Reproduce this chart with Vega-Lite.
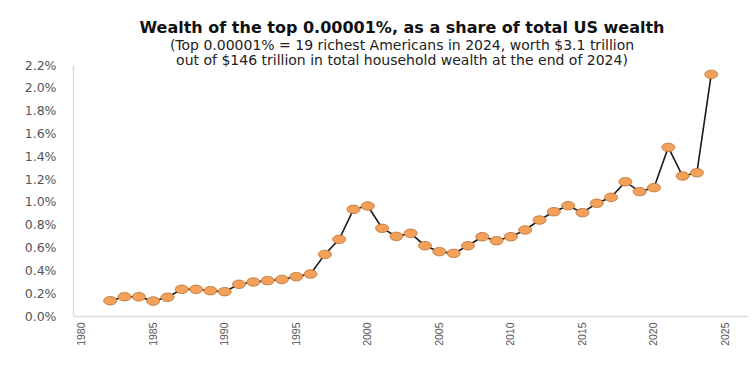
{
  "$schema": "https://vega.github.io/schema/vega-lite/v6.json",
  "width": 674,
  "height": 251,
  "autosize": "none",
  "padding": {"left": 73, "top": 65, "right": 9, "bottom": 49},
  "background": "white",
  "title": {
    "text": "Wealth of the top 0.00001%, as a share of total US wealth",
    "subtitle": ["(Top 0.00001% = 19 richest Americans in 2024, worth $3.1 trillion", "out of $146 trillion in total household wealth at the end of 2024)"],
    "anchor": "middle",
    "font": "DejaVu Sans",
    "fontSize": 16,
    "fontWeight": "bold",
    "color": "#111",
    "subtitleFont": "DejaVu Sans",
    "subtitleFontSize": 14,
    "subtitleColor": "#222",
    "subtitleLineHeight": 15,
    "subtitlePadding": 3,
    "offset": -9,
    "dx": -8
  },
  "config": {
    "view": {"stroke": null},
    "axis": {"grid": false, "ticks": false, "domainColor": "#dddddd", "domainWidth": 1.5, "labelFont": "DejaVu Sans", "labelColor": "#555"}
  },
  "data": {
    "values": [
      {"year": 1982, "share": 0.134},
      {"year": 1983, "share": 0.169},
      {"year": 1984, "share": 0.169},
      {"year": 1985, "share": 0.131},
      {"year": 1986, "share": 0.164},
      {"year": 1987, "share": 0.234},
      {"year": 1988, "share": 0.234},
      {"year": 1989, "share": 0.222},
      {"year": 1990, "share": 0.213},
      {"year": 1991, "share": 0.278},
      {"year": 1992, "share": 0.298},
      {"year": 1993, "share": 0.31},
      {"year": 1994, "share": 0.32},
      {"year": 1995, "share": 0.345},
      {"year": 1996, "share": 0.368},
      {"year": 1997, "share": 0.54},
      {"year": 1998, "share": 0.672},
      {"year": 1999, "share": 0.935},
      {"year": 2000, "share": 0.964},
      {"year": 2001, "share": 0.769},
      {"year": 2002, "share": 0.698},
      {"year": 2003, "share": 0.725},
      {"year": 2004, "share": 0.616},
      {"year": 2005, "share": 0.564},
      {"year": 2006, "share": 0.549},
      {"year": 2007, "share": 0.616},
      {"year": 2008, "share": 0.695},
      {"year": 2009, "share": 0.66},
      {"year": 2010, "share": 0.695},
      {"year": 2011, "share": 0.754},
      {"year": 2012, "share": 0.841},
      {"year": 2013, "share": 0.914},
      {"year": 2014, "share": 0.967},
      {"year": 2015, "share": 0.906},
      {"year": 2016, "share": 0.988},
      {"year": 2017, "share": 1.04},
      {"year": 2018, "share": 1.177},
      {"year": 2019, "share": 1.09},
      {"year": 2020, "share": 1.125},
      {"year": 2021, "share": 1.478},
      {"year": 2022, "share": 1.227},
      {"year": 2023, "share": 1.256},
      {"year": 2024, "share": 2.118}
    ]
  },
  "encoding": {
    "x": {
      "field": "year", "type": "quantitative", "title": null,
      "scale": {"domain": [1979.4, 2026.5], "nice": false, "zero": false},
      "axis": {"values": [1980, 1985, 1990, 1995, 2000, 2005, 2010, 2015, 2020, 2025], "format": "d", "labelAngle": -90, "labelFont": "Liberation Sans", "labelFontSize": 10.5, "labelPadding": 6, "labelFlush": false}
    },
    "y": {
      "field": "share", "type": "quantitative", "title": null,
      "scale": {"domain": [0, 2.2], "nice": false},
      "axis": {"values": [0, 0.2, 0.4, 0.6, 0.8, 1.0, 1.2, 1.4, 1.6, 1.8, 2.0, 2.2], "labelExpr": "format(datum.value, '.1f') + '%'", "labelFontSize": 12.5, "labelPadding": 17, "labelFlush": false}
    }
  },
  "layer": [
    {"mark": {"type": "line", "color": "#1a1a1a", "strokeWidth": 1.6}},
    {"mark": {"type": "point", "filled": true, "shape": "M-1,0A1,0.65,0,1,1,1,0A1,0.65,0,1,1,-1,0Z", "size": 169, "fill": "#F2A05A", "stroke": "#B86E34", "strokeWidth": 0.8, "opacity": 1}}
  ]
}
